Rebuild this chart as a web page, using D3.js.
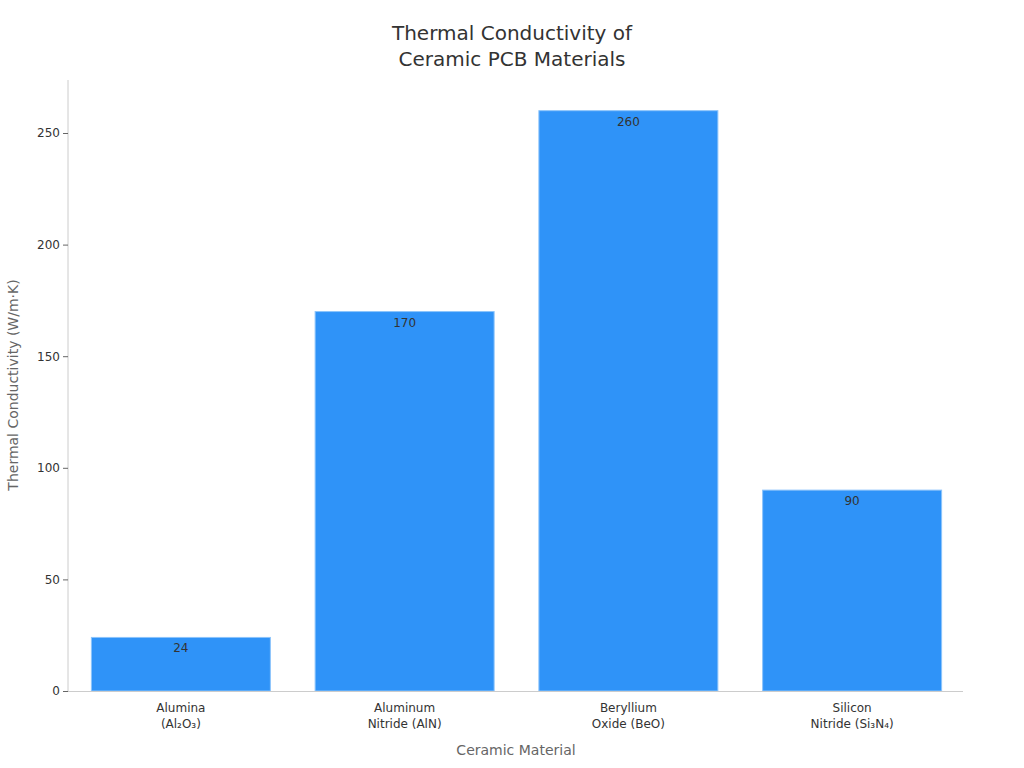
<!DOCTYPE html>
<html><head><meta charset="utf-8">
<script src="https://cdn.jsdelivr.net/npm/d3@7"></script>
<style>body{margin:0;background:#fff;font-family:"DejaVu Sans",sans-serif;}</style>
</head><body>
<svg id="c" width="1024" height="768"></svg>
<script>
const categories = [["Alumina","(Al₂O₃)"],["Aluminum","Nitride (AlN)"],["Beryllium","Oxide (BeO)"],["Silicon","Nitride (Si₃N₄)"]];
const values = [24,170,260,90];
const yTicks = [0,50,100,150,200,250];

const svg = d3.select("#c");
const m = {l:68, r:963, t:80, b:691};
const x = d3.scaleBand().domain(d3.range(values.length)).range([m.l+1,m.r+1]).paddingInner(0.2).paddingOuter(0.1);
const y = d3.scaleLinear().domain([0,250]).range([m.b,133]);

svg.append("text").attr("x",512).attr("y",40).attr("text-anchor","middle").attr("font-size",20).attr("fill","#333").text("Thermal Conductivity of");
svg.append("text").attr("x",512).attr("y",66).attr("text-anchor","middle").attr("font-size",20).attr("fill","#333").text("Ceramic PCB Materials");

svg.selectAll("rect.bar").data(values).join("rect")
  .attr("x",(d,i)=>x(i)).attr("width",x.bandwidth())
  .attr("y",d=>y(d)).attr("height",d=>y(0)-y(d))
  .attr("fill","#2f93f8").attr("stroke","#8cc4fb").attr("stroke-width",1);

svg.selectAll("text.val").data(values).join("text")
  .attr("x",(d,i)=>x(i)+x.bandwidth()/2).attr("y",d=>y(d)+15)
  .attr("text-anchor","middle").attr("font-size",12).attr("fill","#333").text(d=>d);

const ya = svg.append("g").attr("transform",`translate(${m.l},0)`).call(d3.axisLeft(y).tickValues(yTicks).tickSize(5));
ya.select(".domain").attr("stroke","#ccc").attr("d",`M0,${m.t}V${m.b}`);
ya.selectAll(".tick line").attr("stroke","#666");
ya.selectAll(".tick text").attr("font-size",12).attr("fill","#333").attr("font-family","DejaVu Sans");

svg.append("line").attr("x1",m.l).attr("x2",m.r).attr("y1",m.b+0.5).attr("y2",m.b+0.5).attr("stroke","#ccc");

categories.forEach((c,i)=>{
  const cx = x(i)+x.bandwidth()/2;
  c.forEach((s,j)=>svg.append("text").attr("x",cx).attr("y",712+j*16).attr("text-anchor","middle").attr("font-size",12).attr("fill","#333").text(s));
});

svg.append("text").attr("x",516).attr("y",755).attr("text-anchor","middle").attr("font-size",14).attr("fill","#666").text("Ceramic Material");
svg.append("text").attr("transform","translate(18,385) rotate(-90)").attr("text-anchor","middle").attr("font-size",14).attr("fill","#666").text("Thermal Conductivity (W/m·K)");
</script>
</body></html>
